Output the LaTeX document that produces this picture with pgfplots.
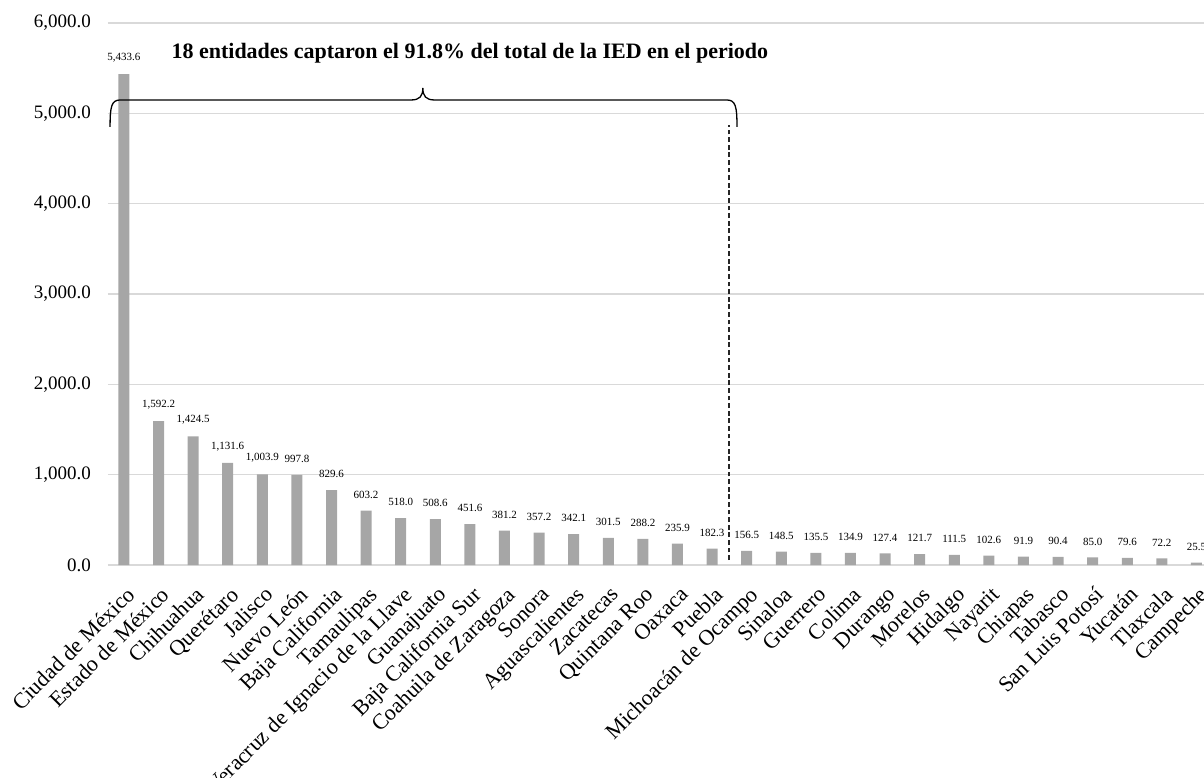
\documentclass[border=0pt]{standalone}
\usepackage{fontspec}
\setmainfont{Liberation Serif}
\usepackage{pgfplots}
\usepackage{pgfplotstable}
\pgfplotsset{compat=1.18}
\definecolor{bargray}{HTML}{A6A6A6}
\definecolor{gridgray}{HTML}{D9D9D9}
\definecolor{dashgray}{HTML}{262626}
\pgfplotstableread{
x y
0 5433.6
1 1592.2
2 1424.5
3 1131.6
4 1003.9
5 997.8
6 829.6
7 603.2
8 518.0
9 508.6
10 451.6
11 381.2
12 357.2
13 342.1
14 301.5
15 288.2
16 235.9
17 182.3
18 156.5
19 148.5
20 135.5
21 134.9
22 127.4
23 121.7
24 111.5
25 102.6
26 91.9
27 90.4
28 85.0
29 79.6
30 72.2
31 25.5
}\ied
\begin{document}
\begin{tikzpicture}
\begin{axis}[
  at={(0,0)}, anchor=south west,
  scale only axis, width=554.6pt, height=271pt,
  xmin=-0.46, xmax=31.6, ymin=0, ymax=6000,
  ybar, bar width=5.5pt,
  axis line style={draw=none},
  major tick style={draw=none},
  ytick={0,1000,...,6000},
  scaled y ticks=false,
  ymajorgrids, grid style={gridgray, line width=0.75pt},
  /pgf/number format/assume math mode=true,
  yticklabel style={font=\fontsize{9.5}{10}\selectfont, xshift=-5pt},
  yticklabel={\pgfmathprintnumber[fixed,fixed zerofill,precision=1,1000 sep={,}]{\tick}},
  xtick=data,
  xticklabels={Ciudad de México,Estado de México,Chihuahua,Querétaro,Jalisco,Nuevo León,Baja California,Tamaulipas,Veracruz de Ignacio de la Llave,Guanajuato,Baja California Sur,Coahuila de Zaragoza,Sonora,Aguascalientes,Zacatecas,Quintana Roo,Oaxaca,Puebla,Michoacán de Ocampo,Sinaloa,Guerrero,Colima,Durango,Morelos,Hidalgo,Nayarit,Chiapas,Tabasco,San Luis Potosí,Yucatán,Tlaxcala,Campeche},
  xticklabel style={rotate=45, anchor=north east, font=\fontsize{11}{12}\selectfont, inner sep=1pt, xshift=-2.5pt, yshift=-3.5pt},
  clip=false,
  nodes near coords={\pgfmathprintnumber[fixed,fixed zerofill,precision=1,1000 sep={,}]{\pgfplotspointmeta}},
  every node near coord/.append style={font=\fontsize{5.5}{6}\selectfont, yshift=2.5pt},
]
\addplot[fill=bargray, draw=none] table[x=x,y=y] {\ied};
\draw[dashgray, line width=1pt, dash pattern=on 2.4pt off 1.4pt] (axis cs:17.5,55) -- (axis cs:17.5,4870);
\draw[black, line width=0.65pt] (axis cs:-0.4,4849) .. controls (axis cs:-0.4,5080) and (axis cs:-0.36,5148) .. (axis cs:-0.1,5148) -- (axis cs:8.3,5148) .. controls (axis cs:8.55,5148) and (axis cs:8.64,5190) .. (axis cs:8.64,5281) .. controls (axis cs:8.64,5190) and (axis cs:8.73,5148) .. (axis cs:8.98,5148) -- (axis cs:17.42,5148) .. controls (axis cs:17.68,5148) and (axis cs:17.72,5080) .. (axis cs:17.72,4849);
\node[font=\fontsize{11}{12}\selectfont\bfseries] at (axis cs:10.0,5670) {18 entidades captaron el 91.8\% del total de la IED en el periodo};
\end{axis}
\pgfresetboundingbox
\path[use as bounding box] (-54pt,-106pt) rectangle (548pt,282.5pt);
\end{tikzpicture}
\end{document}
